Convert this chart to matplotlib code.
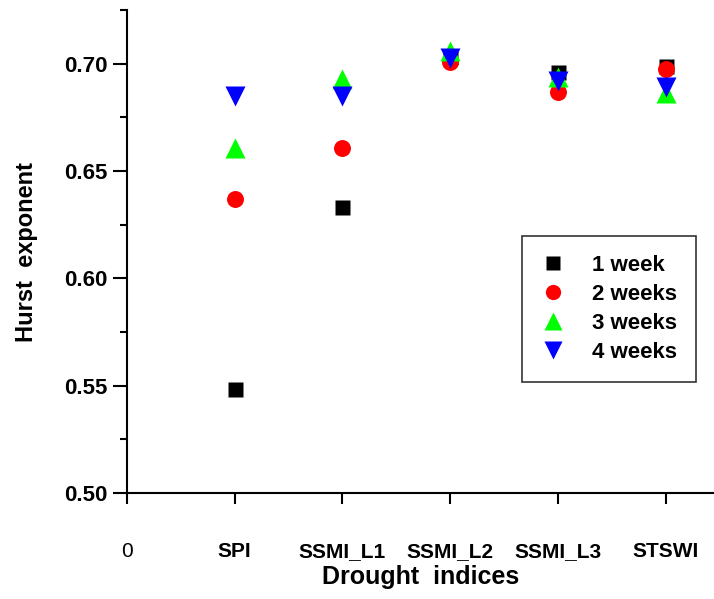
import matplotlib.pyplot as plt
from matplotlib.ticker import MultipleLocator

# drought indices on the x axis (position 0 is left empty)
indices = ['SPI', 'SSMI_L1', 'SSMI_L2', 'SSMI_L3', 'STSWI']

# Hurst exponent for each time scale
week1 = [0.5483, 0.6333, 0.7030, 0.6960, 0.6988]
week2 = [0.6371, 0.6606, 0.7010, 0.6867, 0.6975]
week3 = [0.6605, 0.6930, 0.7057, 0.6940, 0.6863]
week4 = [0.6851, 0.6851, 0.7027, 0.6920, 0.6890]

labels = ['1 week', '2 weeks', '3 weeks', '4 weeks']

plt.rcParams['font.family'] = 'Liberation Sans'
plt.rcParams['font.weight'] = 'bold'

fig = plt.figure(figsize=(7.14, 5.99), dpi=100)
ax = fig.add_axes([127 / 714, 1 - 493 / 599, 1 - 127 / 714, (493 - 10) / 599])

x = list(range(1, len(indices) + 1))
ax.plot(x, week1, 's', color='black', ms=10.8, mec='none', label=labels[0])
ax.plot(x, week2, 'o', color='red', ms=12.2, mec='none', label=labels[1])
ax.plot(x, week3, '^', color='#00ff00', ms=13.8, mec='none', label=labels[2])
ax.plot(x, week4, 'v', color='blue', ms=13.8, mec='none', label=labels[3])

ax.set_xlim(0, 5.45)
ax.set_ylim(0.50, 0.725)

ax.set_xticks([0] + x)
ax.set_xticklabels(['0'] + indices, fontsize=15, fontweight='bold')
ax.get_xticklabels()[0].set_fontweight('normal')
ax.yaxis.set_major_locator(MultipleLocator(0.05))
ax.yaxis.set_minor_locator(MultipleLocator(0.025))
ax.yaxis.set_major_formatter(plt.FormatStrFormatter('%.2f'))
for lab in ax.get_yticklabels():
    lab.set_fontsize(16)
    lab.set_fontweight('bold')

ax.tick_params(axis='x', direction='out', length=8, width=1.5, pad=27)
ax.tick_params(axis='y', which='major', direction='out', length=10, width=1.5, pad=4)
ax.tick_params(axis='y', which='minor', direction='out', length=5, width=1.5)

ax.spines['top'].set_visible(False)
ax.spines['right'].set_visible(False)
ax.spines['left'].set_linewidth(1.5)
ax.spines['bottom'].set_linewidth(1.5)

ax.set_xlabel('Drought  indices', fontsize=18, fontweight='bold', labelpad=3)
ax.set_ylabel('Hurst  exponent', fontsize=17, fontweight='bold', labelpad=19)

leg = ax.legend(loc='upper left', bbox_to_anchor=(522 / 714, 1 - 236 / 599),
                bbox_transform=fig.transFigure, borderaxespad=0, fontsize=16,
                frameon=True, fancybox=False, edgecolor='black',
                labelspacing=0.36, handlelength=1.1, handletextpad=1.2,
                borderpad=0.85, markerscale=0.9)
leg.get_frame().set_linewidth(1.2)

fig.savefig('out.png', dpi=100)
